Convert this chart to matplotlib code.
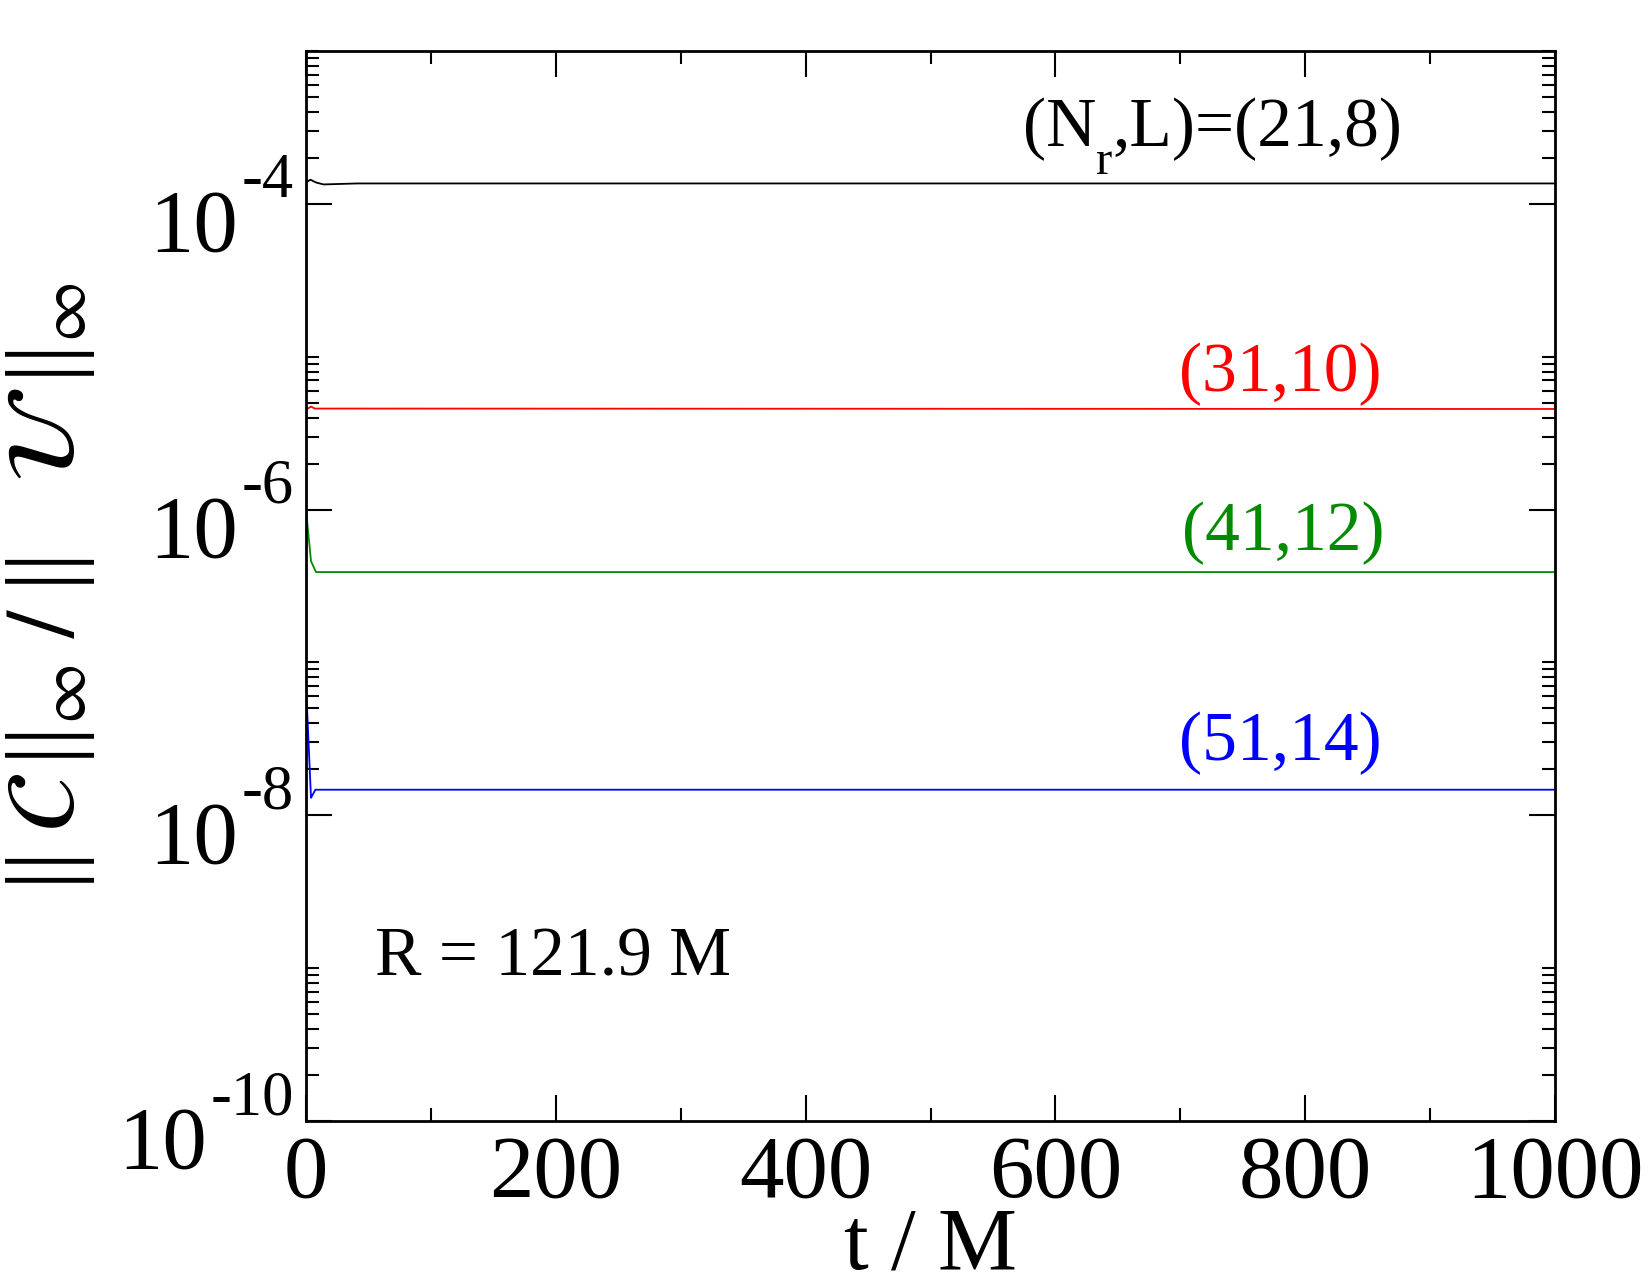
import matplotlib
matplotlib.use("Agg")
import matplotlib.pyplot as plt
from matplotlib.ticker import FixedLocator, NullFormatter, MultipleLocator

# ---- data ----
t_black = [0, 3.5, 8, 14, 41, 1000]
v_black = [1.38e-4, 1.44e-4, 1.38e-4, 1.34e-4, 1.36e-4, 1.36e-4]

t_red = [0, 4, 7, 1000]
v_red = [4.50e-6, 4.72e-6, 4.58e-6, 4.55e-6]

t_green = [0, 4, 8, 1000]
v_green = [1.0e-6, 4.6e-7, 3.9e-7, 3.9e-7]

t_blue = [0, 4, 7.5, 1000]
v_blue = [7.2e-8, 1.3e-8, 1.47e-8, 1.47e-8]

labels = ["(31,10)", "(41,12)", "(51,14)"]
black_label = ["(N", "r", ",L)=(21,8)"]
colors = ["#000000", "#ff0000", "#008b00", "#0000ff"]

xticks = [0, 200, 400, 600, 800, 1000]
ytick_exps = [-10, -8, -6, -4]

plt.rcParams['font.family'] = ['Liberation Serif', 'DejaVu Serif']
plt.rcParams['mathtext.fontset'] = 'stix'
plt.rcParams['axes.unicode_minus'] = False

fig = plt.figure(figsize=(16.5, 12.75), dpi=100)
L, R, T, B = 306, 1555, 51, 1121
W, H = 1650, 1275
ax = fig.add_axes([L / W, 1 - B / H, (R - L) / W, (B - T) / H])

lw = 1.3
ax.plot(t_black, v_black, color=colors[0], lw=lw)
ax.plot(t_red, v_red, color=colors[1], lw=lw)
ax.plot(t_green, v_green, color=colors[2], lw=lw)
ax.plot(t_blue, v_blue, color=colors[3], lw=lw)

ax.set_yscale('log')
ax.set_xlim(0, 1000)
ax.set_ylim(1e-10, 1e-3)

ax.xaxis.set_major_locator(FixedLocator(xticks))
ax.xaxis.set_minor_locator(MultipleLocator(100))
ax.set_xticklabels([str(v) for v in xticks])

ymaj = [10.0 ** e for e in ytick_exps]
ax.yaxis.set_major_locator(FixedLocator(ymaj))
ax.yaxis.set_major_formatter(NullFormatter())
yminor = [m * 10.0 ** e for e in ytick_exps for m in range(2, 11)]
ax.yaxis.set_minor_locator(FixedLocator(yminor))
ax.yaxis.set_minor_formatter(NullFormatter())

for s in ax.spines.values():
    s.set_linewidth(2.0)
ax.tick_params(which='both', direction='in', top=True, right=True, width=1.5)
ax.tick_params(which='major', length=19)
ax.tick_params(which='minor', length=9.5)
ax.tick_params(axis='x', which='major', labelsize=64, pad=10)

# y tick labels: "10" with a raised exponent, xmgrace style
for e in ytick_exps:
    ex = ax.annotate('%d' % e, xy=(0, 10.0 ** e),
                     xycoords=('axes fraction', 'data'),
                     xytext=(-12, 7), textcoords='offset pixels',
                     ha='right', va='baseline', fontsize=45)
    ax.annotate('10', xy=(0, 10.0 ** e), xycoords=(ex, 'data'),
                xytext=(-4, -47), textcoords='offset pixels',
                ha='right', va='baseline', fontsize=64)

ax.set_xlabel('t / M', fontsize=64)
ax.xaxis.label.set_va('baseline')
ax.xaxis.set_label_coords(0.5, (B - 1269) / (B - T))

bars = r'\mathregular{||}'
ax.set_ylabel('$' + bars + r'\;\mathcal{C}\,' + bars + r'_{\infty}\;/\;'
              + bars + r'\quad\mathcal{U}\;' + bars + r'_{\infty}$',
              fontsize=70)
ax.yaxis.label.set_va('baseline')
ax.yaxis.set_label_coords((74 - L) / (R - L), 0.5)


def fx(px):
    return (px - L) / (R - L)


def fy(py):
    return (B - py) / (B - T)


tsz = 50
p1 = ax.text(fx(1023), fy(146), black_label[0], color=colors[0], fontsize=tsz,
             transform=ax.transAxes, ha='left', va='baseline')
p2 = ax.annotate(black_label[1], xy=(1, fy(146)), xycoords=(p1, 'axes fraction'),
                 xytext=(0, -28), textcoords='offset pixels',
                 color=colors[0], fontsize=35, ha='left', va='baseline')
ax.annotate(black_label[2], xy=(1, fy(146)), xycoords=(p2, 'axes fraction'),
            xytext=(0, 0), textcoords='offset pixels',
            color=colors[0], fontsize=tsz, ha='left', va='baseline')

ax.text(fx(1179), fy(391), labels[0], color=colors[1], fontsize=tsz,
        transform=ax.transAxes, ha='left', va='baseline')
ax.text(fx(1182), fy(550), labels[1], color=colors[2], fontsize=tsz,
        transform=ax.transAxes, ha='left', va='baseline')
ax.text(fx(1179), fy(760), labels[2], color=colors[3], fontsize=tsz,
        transform=ax.transAxes, ha='left', va='baseline')
ax.text(fx(375), fy(975), 'R = 121.9 M', color='black', fontsize=tsz,
        transform=ax.transAxes, ha='left', va='baseline')

fig.savefig('out.png', dpi=100)
